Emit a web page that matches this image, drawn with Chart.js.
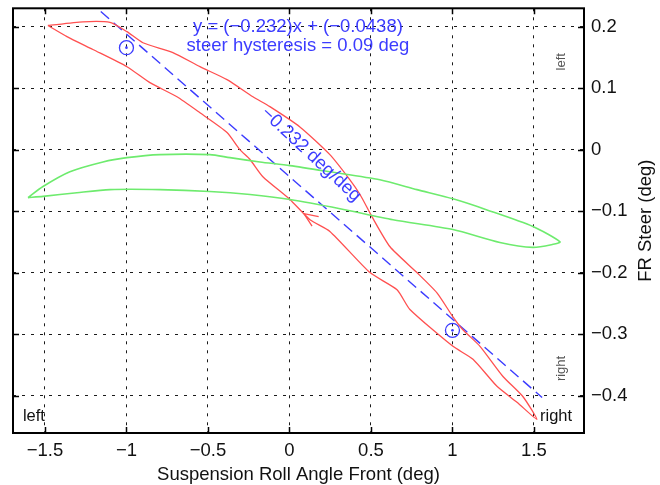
<!DOCTYPE html>
<html>
<head>
<meta charset="utf-8">
<script src="https://cdn.jsdelivr.net/npm/chart.js@4/dist/chart.umd.min.js"></script>
<style>
  html, body { margin: 0; padding: 0; background: #fff; }
  #wrap { width: 660px; height: 485px; }
</style>
</head>
<body>
<div id="wrap"><canvas id="c" width="660" height="485"></canvas></div>
<script>
// ---- axis set-up ----
const xRange = [-1.696, 1.807];
const yRange = [-0.461, 0.230];
const xTicks = [-1.5, -1, -0.5, 0, 0.5, 1, 1.5];
const yTicks = [-0.4, -0.3, -0.2, -0.1, 0, 0.1, 0.2];
const xTitle = 'Suspension Roll Angle Front (deg)';
const yTitle = 'FR Steer (deg)';

// ---- FR steer vs roll, loaded going right then unloaded coming back ----
const steerOutX = [-1.482, -1.267, -1.101, -0.997, -0.899, -0.715, -0.549, -0.383, -0.224, -0.120,
                   0.064, 0.248, 0.371, 0.433, 0.506, 0.617, 0.782, 0.905, 1.003, 1.064, 1.169, 1.310, 1.433, 1.518];
const steerOutY = [0.202, 0.208, 0.207, 0.192, 0.174, 0.158, 0.135, 0.114, 0.086, 0.070,
                   0.037, -0.008, -0.049, -0.073, -0.109, -0.158, -0.200, -0.233, -0.272, -0.293, -0.320, -0.369, -0.402, -0.439];
const steerBackX = [1.396, 1.273, 1.126, 1.003, 0.739, 0.660, 0.494, 0.248, 0.126, 0.003,
                    -0.163, -0.242, -0.304, -0.383, -0.549, -0.690, -0.856, -0.997, -1.206, -1.365, -1.482];
const steerBackY = [-0.411, -0.385, -0.341, -0.320, -0.260, -0.228, -0.200, -0.133, -0.114, -0.081,
                    -0.044, -0.016, 0.000, 0.028, 0.060, 0.086, 0.109, 0.135, 0.163, 0.184, 0.202];

// ---- second steer trace (green loop) ----
const trace2OutX = [-1.604, -1.512, -1.347, -1.144, -0.997, -0.794, -0.488, -0.365, -0.181, 0.003,
                    0.248, 0.555, 0.782, 1.003, 1.212, 1.494, 1.660];
const trace2OutY = [-0.078, -0.060, -0.036, -0.020, -0.013, -0.008, -0.008, -0.013, -0.020, -0.026,
                    -0.036, -0.049, -0.065, -0.080, -0.098, -0.125, -0.150];
const trace2BackX = [1.617, 1.494, 1.291, 1.003, 0.635, 0.310, 0.003, -0.242, -0.488, -0.794,
                     -1.101, -1.304, -1.512, -1.604];
const trace2BackY = [-0.154, -0.159, -0.151, -0.130, -0.114, -0.096, -0.081, -0.073, -0.068, -0.065,
                     -0.065, -0.070, -0.076, -0.078];

// ---- linear fit and its reference markers ----
const fitSlope = -0.232;
const fitOffset = -0.0438;
const fitSpanX = [-1.55, 1.55];
const hysteresis = 0.09;
const markerX = [-1, 1];
const markerY = [0.166, -0.294];

// direction arrow on the return branch
const arrowTip = { x: 0.089, y: -0.104 };

const FONT = '"Liberation Sans", Arial, Helvetica, sans-serif';
const RED = 'rgb(255,80,80)';
const GREEN = 'rgb(110,235,110)';
const BLUE = 'rgb(60,60,255)';

const minus = v => String(v).replace('-', '\u2212');
const pts = (xs, ys) => xs.map((x, i) => ({ x, y: ys[i] }));

const steerLoop = pts(steerOutX.concat(steerBackX), steerOutY.concat(steerBackY));
const trace2Loop = pts(trace2OutX.concat(trace2BackX), trace2OutY.concat(trace2BackY));
const fitLine = fitSpanX.map(x => ({ x, y: fitSlope * x + fitOffset }));
const markers = pts(markerX, markerY);

const eqText = 'y = (' + minus(fitSlope) + ')x + (' + minus(fitOffset) + ')';
const hystText = 'steer hysteresis = ' + hysteresis + ' deg';
const slopeText = minus(fitSlope) + ' deg/deg';

// text labels placed in data units
const notes = [
  { text: eqText, x: 0.052, y: 0.192, size: 18.5, color: BLUE, align: 'center', base: 'alphabetic', rot: 0 },
  { text: hystText, x: 0.052, y: 0.160, size: 18.5, color: BLUE, align: 'center', base: 'alphabetic', rot: 0 },
  { text: slopeText, x: 0.132, y: -0.008, size: 18.5, color: BLUE, align: 'center', base: 'middle', rot: 43 },
  { text: 'left', x: -1.635, y: -0.442, size: 16.5, color: '#111', align: 'left', base: 'alphabetic', rot: 0 },
  { text: 'right', x: 1.537, y: -0.442, size: 16.5, color: '#111', align: 'left', base: 'alphabetic', rot: 0 },
  { text: 'left', x: 1.666, y: 0.143, size: 13, color: '#555', align: 'center', base: 'middle', rot: -90 },
  { text: 'right', x: 1.666, y: -0.356, size: 13, color: '#555', align: 'center', base: 'middle', rot: -90 }
];

// frame, inward tick marks, arrow, notes and axis titles
const decor = {
  id: 'decor',
  afterDatasetsDraw(chart) {
    const { ctx, chartArea: a, scales: { x, y } } = chart;
    ctx.save();
    // inward ticks on all four sides
    ctx.strokeStyle = '#000';
    ctx.lineWidth = 1.5;
    ctx.beginPath();
    xTicks.forEach(v => {
      const px = Math.round(x.getPixelForValue(v)) + 0.5;
      ctx.moveTo(px, a.top); ctx.lineTo(px, a.top + 6);
      ctx.moveTo(px, a.bottom); ctx.lineTo(px, a.bottom - 6);
    });
    yTicks.forEach(v => {
      const py = Math.round(y.getPixelForValue(v)) + 0.5;
      ctx.moveTo(a.left, py); ctx.lineTo(a.left + 6, py);
      ctx.moveTo(a.right, py); ctx.lineTo(a.right - 6, py);
    });
    ctx.stroke();
    // frame
    ctx.lineWidth = 2;
    ctx.strokeRect(a.left, a.top, a.right - a.left, a.bottom - a.top);

    // arrowhead along the return branch
    const tx = x.getPixelForValue(arrowTip.x), ty = y.getPixelForValue(arrowTip.y);
    const bx = x.getPixelForValue(steerBackX[7]), by = y.getPixelForValue(steerBackY[7]);
    const ang = Math.atan2(by - ty, bx - tx);
    const len = 15, spread = 0.4;
    ctx.strokeStyle = RED;
    ctx.lineWidth = 1.3;
    ctx.beginPath();
    ctx.moveTo(tx + len * Math.cos(ang - spread), ty + len * Math.sin(ang - spread));
    ctx.lineTo(tx, ty);
    ctx.lineTo(tx + len * Math.cos(ang + spread), ty + len * Math.sin(ang + spread));
    ctx.stroke();

    // notes
    notes.forEach(n => {
      ctx.save();
      ctx.translate(x.getPixelForValue(n.x), y.getPixelForValue(n.y));
      ctx.rotate(n.rot * Math.PI / 180);
      ctx.font = n.size + 'px ' + FONT;
      ctx.fillStyle = n.color;
      ctx.textAlign = n.align;
      ctx.textBaseline = n.base;
      ctx.fillText(n.text, 0, 0);
      ctx.restore();
    });
    ctx.restore();
  },
  afterDraw(chart) {
    const { ctx, chartArea: a } = chart;
    ctx.save();
    ctx.fillStyle = '#111';
    ctx.font = '18.5px ' + FONT;
    ctx.textAlign = 'center';
    ctx.textBaseline = 'alphabetic';
    ctx.fillText(xTitle, (a.left + a.right) / 2, 480);
    ctx.translate(646, (a.top + a.bottom) / 2);
    ctx.rotate(-Math.PI / 2);
    ctx.textBaseline = 'middle';
    ctx.fillText(yTitle, 0, 0);
    ctx.restore();
  }
};

const gridStyle = { color: '#1a1a1a', lineWidth: 1, drawTicks: false };
const tickFont = { family: FONT, size: 18.5 };

new Chart(document.getElementById('c'), {
  type: 'scatter',
  data: {
    datasets: [
      { data: trace2Loop, showLine: true, borderColor: GREEN, borderWidth: 1.6, pointRadius: 0, tension: 0.25, fill: false },
      { data: steerLoop, showLine: true, borderColor: RED, borderWidth: 1.3, pointRadius: 0, tension: 0.2, fill: false },
      { data: fitLine, showLine: true, borderColor: BLUE, borderWidth: 1.4, borderDash: [11, 6], pointRadius: 0, fill: false },
      { data: markers, showLine: false, pointRadius: 7, pointBorderWidth: 1.3, pointBorderColor: BLUE, pointBackgroundColor: 'rgba(0,0,0,0)' },
      { data: markers, showLine: false, pointRadius: 1.3, pointBorderWidth: 0, pointBackgroundColor: BLUE }
    ]
  },
  options: {
    responsive: false,
    animation: false,
    events: [],
    layout: { padding: { left: 13, top: 8, right: 0, bottom: 0 } },
    plugins: { legend: { display: false }, tooltip: { enabled: false }, title: { display: false } },
    scales: {
      x: {
        type: 'linear', position: 'bottom', min: xRange[0], max: xRange[1],
        afterBuildTicks: s => { s.ticks = xTicks.map(v => ({ value: v })); },
        afterFit: s => { s.height = 52; s.paddingLeft = 0; s.paddingRight = 0; },
        grid: gridStyle,
        border: { display: false, dash: [3, 6] },
        ticks: { padding: 7, color: '#111', font: tickFont, maxRotation: 0, autoSkip: false, callback: v => minus(v) }
      },
      y: {
        type: 'linear', position: 'right', min: yRange[0], max: yRange[1],
        afterBuildTicks: s => { s.ticks = yTicks.map(v => ({ value: v })); },
        afterFit: s => { s.width = 76; s.paddingTop = 0; s.paddingBottom = 0; },
        grid: gridStyle,
        border: { display: false, dash: [3, 6] },
        ticks: { padding: 7, color: '#111', font: tickFont, autoSkip: false, callback: v => minus(v) }
      }
    }
  },
  plugins: [decor]
});
</script>
</body>
</html>
